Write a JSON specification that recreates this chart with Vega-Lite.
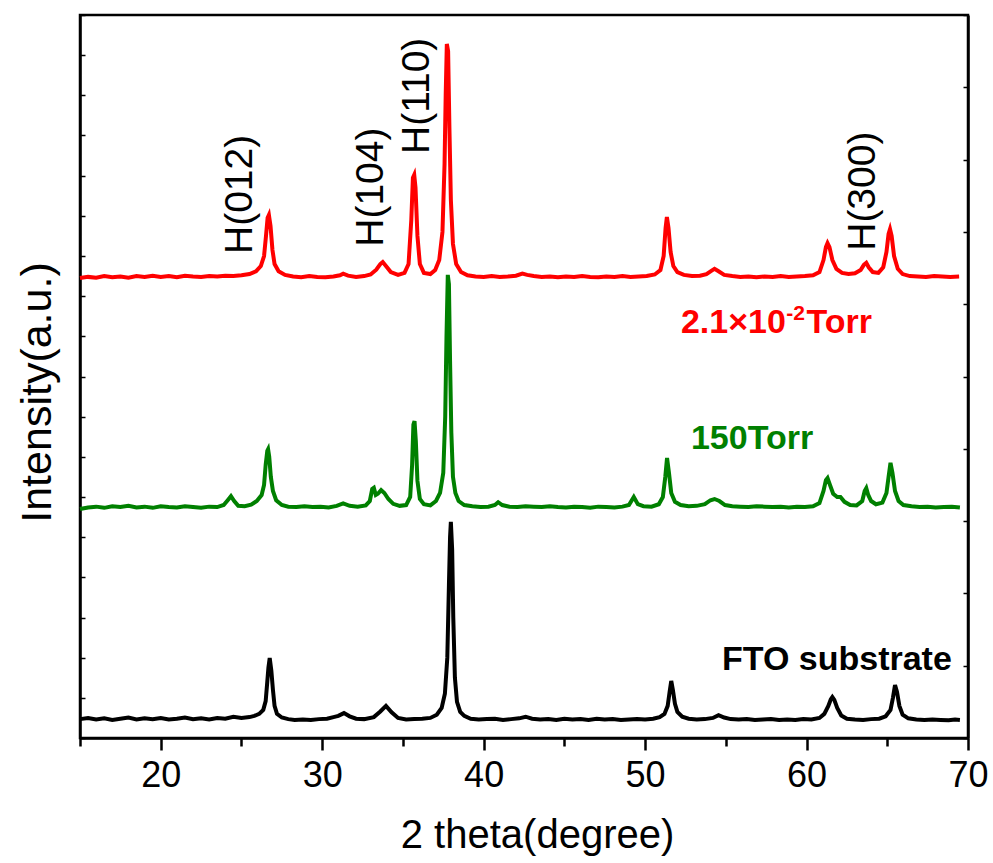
{
  "$schema": "https://vega.github.io/schema/vega-lite/v6.json",
  "width": 888,
  "height": 723,
  "autosize": {"type": "none"},
  "padding": {"left": 80, "top": 15, "right": 25, "bottom": 125},
  "background": "white",
  "config": {
    "view": {"stroke": "black", "strokeWidth": 2.5},
    "font": "Liberation Sans",
    "axis": {"grid": false, "domainColor": "black", "domainWidth": 2.5, "tickColor": "black", "labelColor": "black", "titleColor": "black", "labelFont": "Liberation Sans", "titleFont": "Liberation Sans", "titleFontWeight": "normal"}
  },
  "datasets": {
    "curves": [
      {"s":"FTO","x":15.0,"y":47},{"s":"FTO","x":15.5,"y":50},{"s":"FTO","x":16.0,"y":46},{"s":"FTO","x":16.5,"y":49},{"s":"FTO","x":17.0,"y":45},{"s":"FTO","x":17.5,"y":48},{"s":"FTO","x":18.0,"y":51},{"s":"FTO","x":18.5,"y":46},{"s":"FTO","x":19.0,"y":49},{"s":"FTO","x":19.5,"y":47},{"s":"FTO","x":20.0,"y":50},{"s":"FTO","x":20.5,"y":46},{"s":"FTO","x":21.0,"y":48},{"s":"FTO","x":21.5,"y":51},{"s":"FTO","x":22.0,"y":47},{"s":"FTO","x":22.5,"y":49},{"s":"FTO","x":23.0,"y":46},{"s":"FTO","x":23.5,"y":50},{"s":"FTO","x":24.0,"y":48},{"s":"FTO","x":24.5,"y":53},{"s":"FTO","x":25.0,"y":50},{"s":"FTO","x":25.5,"y":52},{"s":"FTO","x":25.8,"y":55},{"s":"FTO","x":26.1,"y":60},{"s":"FTO","x":26.35,"y":70},{"s":"FTO","x":26.5,"y":92},{"s":"FTO","x":26.6,"y":140},{"s":"FTO","x":26.67,"y":175},{"s":"FTO","x":26.75,"y":199},{"s":"FTO","x":26.85,"y":168},{"s":"FTO","x":26.95,"y":120},{"s":"FTO","x":27.05,"y":80},{"s":"FTO","x":27.2,"y":60},{"s":"FTO","x":27.5,"y":51},{"s":"FTO","x":27.9,"y":47},{"s":"FTO","x":28.3,"y":45},{"s":"FTO","x":28.8,"y":46},{"s":"FTO","x":29.3,"y":45},{"s":"FTO","x":29.8,"y":47},{"s":"FTO","x":30.3,"y":48},{"s":"FTO","x":30.7,"y":52},{"s":"FTO","x":31.0,"y":55},{"s":"FTO","x":31.35,"y":62},{"s":"FTO","x":31.7,"y":54},{"s":"FTO","x":32.1,"y":48},{"s":"FTO","x":32.6,"y":47},{"s":"FTO","x":33.2,"y":52},{"s":"FTO","x":33.6,"y":66},{"s":"FTO","x":33.95,"y":80},{"s":"FTO","x":34.3,"y":64},{"s":"FTO","x":34.7,"y":50},{"s":"FTO","x":35.2,"y":46},{"s":"FTO","x":35.7,"y":47},{"s":"FTO","x":36.2,"y":48},{"s":"FTO","x":36.7,"y":50},{"s":"FTO","x":37.1,"y":58},{"s":"FTO","x":37.4,"y":75},{"s":"FTO","x":37.6,"y":110},{"s":"FTO","x":37.75,"y":200},{"s":"FTO","x":37.85,"y":380},{"s":"FTO","x":37.92,"y":500},{"s":"FTO","x":37.97,"y":538},{"s":"FTO","x":38.05,"y":470},{"s":"FTO","x":38.12,"y":300},{"s":"FTO","x":38.22,"y":150},{"s":"FTO","x":38.35,"y":90},{"s":"FTO","x":38.55,"y":65},{"s":"FTO","x":38.8,"y":55},{"s":"FTO","x":39.2,"y":48},{"s":"FTO","x":39.7,"y":46},{"s":"FTO","x":40.2,"y":47},{"s":"FTO","x":40.7,"y":48},{"s":"FTO","x":41.2,"y":45},{"s":"FTO","x":41.7,"y":47},{"s":"FTO","x":42.2,"y":49},{"s":"FTO","x":42.6,"y":53},{"s":"FTO","x":43.0,"y":48},{"s":"FTO","x":43.5,"y":46},{"s":"FTO","x":44.0,"y":47},{"s":"FTO","x":44.5,"y":45},{"s":"FTO","x":45.0,"y":48},{"s":"FTO","x":45.5,"y":46},{"s":"FTO","x":46.0,"y":47},{"s":"FTO","x":46.5,"y":45},{"s":"FTO","x":47.0,"y":48},{"s":"FTO","x":47.5,"y":46},{"s":"FTO","x":48.0,"y":47},{"s":"FTO","x":48.5,"y":45},{"s":"FTO","x":49.0,"y":46},{"s":"FTO","x":49.5,"y":47},{"s":"FTO","x":50.0,"y":46},{"s":"FTO","x":50.5,"y":48},{"s":"FTO","x":50.9,"y":52},{"s":"FTO","x":51.2,"y":60},{"s":"FTO","x":51.4,"y":80},{"s":"FTO","x":51.52,"y":115},{"s":"FTO","x":51.62,"y":142},{"s":"FTO","x":51.72,"y":120},{"s":"FTO","x":51.85,"y":85},{"s":"FTO","x":52.0,"y":65},{"s":"FTO","x":52.3,"y":53},{"s":"FTO","x":52.7,"y":48},{"s":"FTO","x":53.2,"y":46},{"s":"FTO","x":53.7,"y":47},{"s":"FTO","x":54.2,"y":50},{"s":"FTO","x":54.55,"y":57},{"s":"FTO","x":54.9,"y":51},{"s":"FTO","x":55.3,"y":47},{"s":"FTO","x":55.8,"y":46},{"s":"FTO","x":56.3,"y":47},{"s":"FTO","x":56.8,"y":45},{"s":"FTO","x":57.3,"y":46},{"s":"FTO","x":57.8,"y":47},{"s":"FTO","x":58.3,"y":45},{"s":"FTO","x":58.8,"y":46},{"s":"FTO","x":59.3,"y":45},{"s":"FTO","x":59.8,"y":47},{"s":"FTO","x":60.3,"y":46},{"s":"FTO","x":60.8,"y":50},{"s":"FTO","x":61.1,"y":60},{"s":"FTO","x":61.35,"y":80},{"s":"FTO","x":61.5,"y":96},{"s":"FTO","x":61.6,"y":102},{"s":"FTO","x":61.72,"y":95},{"s":"FTO","x":61.9,"y":75},{"s":"FTO","x":62.15,"y":56},{"s":"FTO","x":62.5,"y":48},{"s":"FTO","x":63.0,"y":46},{"s":"FTO","x":63.5,"y":45},{"s":"FTO","x":64.0,"y":47},{"s":"FTO","x":64.5,"y":48},{"s":"FTO","x":64.9,"y":54},{"s":"FTO","x":65.2,"y":70},{"s":"FTO","x":65.35,"y":100},{"s":"FTO","x":65.48,"y":132},{"s":"FTO","x":65.6,"y":115},{"s":"FTO","x":65.75,"y":80},{"s":"FTO","x":65.95,"y":58},{"s":"FTO","x":66.3,"y":49},{"s":"FTO","x":66.8,"y":46},{"s":"FTO","x":67.3,"y":45},{"s":"FTO","x":67.8,"y":46},{"s":"FTO","x":68.3,"y":45},{"s":"FTO","x":68.8,"y":44},{"s":"FTO","x":69.2,"y":46},{"s":"FTO","x":69.5,"y":45},

      {"s":"150","x":15.0,"y":570},{"s":"150","x":15.5,"y":574},{"s":"150","x":16.0,"y":576},{"s":"150","x":16.5,"y":573},{"s":"150","x":17.0,"y":577},{"s":"150","x":17.5,"y":575},{"s":"150","x":18.0,"y":578},{"s":"150","x":18.5,"y":574},{"s":"150","x":19.0,"y":576},{"s":"150","x":19.5,"y":573},{"s":"150","x":20.0,"y":577},{"s":"150","x":20.5,"y":575},{"s":"150","x":21.0,"y":574},{"s":"150","x":21.5,"y":577},{"s":"150","x":22.0,"y":575},{"s":"150","x":22.5,"y":573},{"s":"150","x":23.0,"y":576},{"s":"150","x":23.5,"y":575},{"s":"150","x":23.9,"y":580},{"s":"150","x":24.15,"y":592},{"s":"150","x":24.35,"y":602},{"s":"150","x":24.55,"y":590},{"s":"150","x":24.8,"y":578},{"s":"150","x":25.2,"y":577},{"s":"150","x":25.6,"y":581},{"s":"150","x":25.95,"y":590},{"s":"150","x":26.25,"y":605},{"s":"150","x":26.4,"y":630},{"s":"150","x":26.5,"y":680},{"s":"150","x":26.6,"y":715},{"s":"150","x":26.65,"y":719},{"s":"150","x":26.72,"y":700},{"s":"150","x":26.82,"y":650},{"s":"150","x":26.95,"y":615},{"s":"150","x":27.15,"y":592},{"s":"150","x":27.5,"y":580},{"s":"150","x":27.9,"y":576},{"s":"150","x":28.4,"y":575},{"s":"150","x":28.9,"y":577},{"s":"150","x":29.4,"y":575},{"s":"150","x":29.9,"y":576},{"s":"150","x":30.4,"y":574},{"s":"150","x":30.9,"y":578},{"s":"150","x":31.3,"y":584},{"s":"150","x":31.7,"y":578},{"s":"150","x":32.2,"y":576},{"s":"150","x":32.7,"y":579},{"s":"150","x":32.95,"y":590},{"s":"150","x":33.1,"y":620},{"s":"150","x":33.2,"y":623},{"s":"150","x":33.32,"y":605},{"s":"150","x":33.45,"y":608},{"s":"150","x":33.65,"y":617},{"s":"150","x":33.85,"y":610},{"s":"150","x":34.1,"y":595},{"s":"150","x":34.4,"y":583},{"s":"150","x":34.8,"y":578},{"s":"150","x":35.2,"y":580},{"s":"150","x":35.45,"y":600},{"s":"150","x":35.57,"y":680},{"s":"150","x":35.65,"y":780},{"s":"150","x":35.72,"y":789},{"s":"150","x":35.8,"y":740},{"s":"150","x":35.9,"y":640},{"s":"150","x":36.05,"y":595},{"s":"150","x":36.3,"y":582},{"s":"150","x":36.7,"y":579},{"s":"150","x":37.05,"y":590},{"s":"150","x":37.3,"y":610},{"s":"150","x":37.5,"y":660},{"s":"150","x":37.62,"y":800},{"s":"150","x":37.7,"y":1000},{"s":"150","x":37.78,"y":1153},{"s":"150","x":37.85,"y":1130},{"s":"150","x":37.92,"y":940},{"s":"150","x":38.0,"y":760},{"s":"150","x":38.1,"y":650},{"s":"150","x":38.25,"y":610},{"s":"150","x":38.45,"y":590},{"s":"150","x":38.8,"y":580},{"s":"150","x":39.3,"y":577},{"s":"150","x":39.8,"y":575},{"s":"150","x":40.3,"y":576},{"s":"150","x":40.7,"y":580},{"s":"150","x":40.9,"y":587},{"s":"150","x":41.15,"y":580},{"s":"150","x":41.6,"y":576},{"s":"150","x":42.1,"y":575},{"s":"150","x":42.6,"y":577},{"s":"150","x":43.1,"y":576},{"s":"150","x":43.6,"y":575},{"s":"150","x":44.1,"y":577},{"s":"150","x":44.6,"y":575},{"s":"150","x":45.1,"y":574},{"s":"150","x":45.6,"y":576},{"s":"150","x":46.1,"y":575},{"s":"150","x":46.6,"y":573},{"s":"150","x":47.1,"y":576},{"s":"150","x":47.6,"y":575},{"s":"150","x":48.1,"y":574},{"s":"150","x":48.6,"y":576},{"s":"150","x":49.0,"y":580},{"s":"150","x":49.3,"y":600},{"s":"150","x":49.55,"y":582},{"s":"150","x":49.9,"y":577},{"s":"150","x":50.4,"y":576},{"s":"150","x":50.85,"y":582},{"s":"150","x":51.1,"y":600},{"s":"150","x":51.25,"y":650},{"s":"150","x":51.36,"y":697},{"s":"150","x":51.48,"y":660},{"s":"150","x":51.62,"y":610},{"s":"150","x":51.85,"y":588},{"s":"150","x":52.2,"y":580},{"s":"150","x":52.7,"y":577},{"s":"150","x":53.2,"y":578},{"s":"150","x":53.7,"y":582},{"s":"150","x":54.05,"y":592},{"s":"150","x":54.3,"y":595},{"s":"150","x":54.6,"y":590},{"s":"150","x":54.95,"y":580},{"s":"150","x":55.4,"y":577},{"s":"150","x":55.9,"y":576},{"s":"150","x":56.4,"y":575},{"s":"150","x":56.9,"y":577},{"s":"150","x":57.4,"y":576},{"s":"150","x":57.9,"y":575},{"s":"150","x":58.4,"y":576},{"s":"150","x":58.9,"y":574},{"s":"150","x":59.4,"y":576},{"s":"150","x":59.9,"y":575},{"s":"150","x":60.4,"y":577},{"s":"150","x":60.8,"y":585},{"s":"150","x":61.05,"y":615},{"s":"150","x":61.2,"y":642},{"s":"150","x":61.3,"y":647},{"s":"150","x":61.45,"y":630},{"s":"150","x":61.65,"y":608},{"s":"150","x":61.9,"y":600},{"s":"150","x":62.1,"y":600},{"s":"150","x":62.35,"y":588},{"s":"150","x":62.7,"y":580},{"s":"150","x":63.1,"y":579},{"s":"150","x":63.45,"y":590},{"s":"150","x":63.6,"y":615},{"s":"150","x":63.7,"y":622},{"s":"150","x":63.82,"y":605},{"s":"150","x":64.0,"y":590},{"s":"150","x":64.3,"y":582},{"s":"150","x":64.7,"y":586},{"s":"150","x":64.95,"y":610},{"s":"150","x":65.08,"y":650},{"s":"150","x":65.2,"y":685},{"s":"150","x":65.32,"y":660},{"s":"150","x":65.48,"y":615},{"s":"150","x":65.7,"y":590},{"s":"150","x":66.0,"y":580},{"s":"150","x":66.5,"y":577},{"s":"150","x":67.0,"y":575},{"s":"150","x":67.5,"y":576},{"s":"150","x":68.0,"y":574},{"s":"150","x":68.5,"y":575},{"s":"150","x":69.0,"y":576},{"s":"150","x":69.5,"y":574},

      {"s":"2.1","x":15.0,"y":1145},{"s":"2.1","x":15.5,"y":1148},{"s":"2.1","x":16.0,"y":1146},{"s":"2.1","x":16.5,"y":1150},{"s":"2.1","x":17.0,"y":1147},{"s":"2.1","x":17.5,"y":1149},{"s":"2.1","x":18.0,"y":1146},{"s":"2.1","x":18.5,"y":1150},{"s":"2.1","x":19.0,"y":1148},{"s":"2.1","x":19.5,"y":1151},{"s":"2.1","x":20.0,"y":1148},{"s":"2.1","x":20.5,"y":1150},{"s":"2.1","x":21.0,"y":1147},{"s":"2.1","x":21.5,"y":1151},{"s":"2.1","x":22.0,"y":1149},{"s":"2.1","x":22.5,"y":1148},{"s":"2.1","x":23.0,"y":1150},{"s":"2.1","x":23.5,"y":1149},{"s":"2.1","x":24.0,"y":1151},{"s":"2.1","x":24.5,"y":1150},{"s":"2.1","x":25.0,"y":1152},{"s":"2.1","x":25.5,"y":1155},{"s":"2.1","x":25.9,"y":1162},{"s":"2.1","x":26.2,"y":1175},{"s":"2.1","x":26.4,"y":1200},{"s":"2.1","x":26.52,"y":1250},{"s":"2.1","x":26.62,"y":1295},{"s":"2.1","x":26.7,"y":1302},{"s":"2.1","x":26.8,"y":1275},{"s":"2.1","x":26.92,"y":1215},{"s":"2.1","x":27.05,"y":1180},{"s":"2.1","x":27.3,"y":1162},{"s":"2.1","x":27.7,"y":1153},{"s":"2.1","x":28.2,"y":1149},{"s":"2.1","x":28.7,"y":1147},{"s":"2.1","x":29.2,"y":1150},{"s":"2.1","x":29.7,"y":1148},{"s":"2.1","x":30.2,"y":1147},{"s":"2.1","x":30.7,"y":1149},{"s":"2.1","x":31.1,"y":1152},{"s":"2.1","x":31.3,"y":1156},{"s":"2.1","x":31.6,"y":1151},{"s":"2.1","x":32.1,"y":1148},{"s":"2.1","x":32.6,"y":1150},{"s":"2.1","x":33.0,"y":1154},{"s":"2.1","x":33.35,"y":1166},{"s":"2.1","x":33.6,"y":1180},{"s":"2.1","x":33.75,"y":1185},{"s":"2.1","x":33.95,"y":1175},{"s":"2.1","x":34.25,"y":1160},{"s":"2.1","x":34.7,"y":1153},{"s":"2.1","x":35.1,"y":1158},{"s":"2.1","x":35.35,"y":1180},{"s":"2.1","x":35.52,"y":1290},{"s":"2.1","x":35.62,"y":1395},{"s":"2.1","x":35.7,"y":1402},{"s":"2.1","x":35.78,"y":1370},{"s":"2.1","x":35.9,"y":1250},{"s":"2.1","x":36.05,"y":1180},{"s":"2.1","x":36.3,"y":1158},{"s":"2.1","x":36.7,"y":1155},{"s":"2.1","x":37.0,"y":1165},{"s":"2.1","x":37.25,"y":1190},{"s":"2.1","x":37.45,"y":1260},{"s":"2.1","x":37.58,"y":1430},{"s":"2.1","x":37.65,"y":1600},{"s":"2.1","x":37.72,"y":1728},{"s":"2.1","x":37.8,"y":1710},{"s":"2.1","x":37.88,"y":1520},{"s":"2.1","x":37.97,"y":1340},{"s":"2.1","x":38.1,"y":1230},{"s":"2.1","x":38.3,"y":1180},{"s":"2.1","x":38.6,"y":1160},{"s":"2.1","x":39.0,"y":1152},{"s":"2.1","x":39.5,"y":1149},{"s":"2.1","x":40.0,"y":1148},{"s":"2.1","x":40.5,"y":1150},{"s":"2.1","x":41.0,"y":1148},{"s":"2.1","x":41.5,"y":1149},{"s":"2.1","x":42.0,"y":1151},{"s":"2.1","x":42.4,"y":1156},{"s":"2.1","x":42.7,"y":1153},{"s":"2.1","x":43.1,"y":1150},{"s":"2.1","x":43.6,"y":1148},{"s":"2.1","x":44.1,"y":1149},{"s":"2.1","x":44.6,"y":1147},{"s":"2.1","x":45.1,"y":1149},{"s":"2.1","x":45.6,"y":1148},{"s":"2.1","x":46.1,"y":1150},{"s":"2.1","x":46.6,"y":1148},{"s":"2.1","x":47.1,"y":1147},{"s":"2.1","x":47.6,"y":1149},{"s":"2.1","x":48.1,"y":1148},{"s":"2.1","x":48.6,"y":1150},{"s":"2.1","x":49.1,"y":1148},{"s":"2.1","x":49.6,"y":1149},{"s":"2.1","x":50.1,"y":1150},{"s":"2.1","x":50.6,"y":1154},{"s":"2.1","x":50.95,"y":1165},{"s":"2.1","x":51.15,"y":1200},{"s":"2.1","x":51.27,"y":1270},{"s":"2.1","x":51.35,"y":1297},{"s":"2.1","x":51.45,"y":1270},{"s":"2.1","x":51.58,"y":1210},{"s":"2.1","x":51.75,"y":1175},{"s":"2.1","x":52.0,"y":1160},{"s":"2.1","x":52.4,"y":1153},{"s":"2.1","x":52.9,"y":1150},{"s":"2.1","x":53.4,"y":1151},{"s":"2.1","x":53.8,"y":1155},{"s":"2.1","x":54.1,"y":1163},{"s":"2.1","x":54.3,"y":1168},{"s":"2.1","x":54.55,"y":1162},{"s":"2.1","x":54.9,"y":1153},{"s":"2.1","x":55.4,"y":1150},{"s":"2.1","x":55.9,"y":1148},{"s":"2.1","x":56.4,"y":1149},{"s":"2.1","x":56.9,"y":1147},{"s":"2.1","x":57.4,"y":1149},{"s":"2.1","x":57.9,"y":1148},{"s":"2.1","x":58.4,"y":1150},{"s":"2.1","x":58.9,"y":1148},{"s":"2.1","x":59.4,"y":1149},{"s":"2.1","x":59.9,"y":1150},{"s":"2.1","x":60.4,"y":1152},{"s":"2.1","x":60.8,"y":1160},{"s":"2.1","x":61.05,"y":1190},{"s":"2.1","x":61.2,"y":1222},{"s":"2.1","x":61.3,"y":1232},{"s":"2.1","x":61.42,"y":1222},{"s":"2.1","x":61.6,"y":1190},{"s":"2.1","x":61.85,"y":1168},{"s":"2.1","x":62.2,"y":1158},{"s":"2.1","x":62.6,"y":1155},{"s":"2.1","x":63.0,"y":1157},{"s":"2.1","x":63.35,"y":1165},{"s":"2.1","x":63.55,"y":1178},{"s":"2.1","x":63.7,"y":1183},{"s":"2.1","x":63.85,"y":1172},{"s":"2.1","x":64.1,"y":1160},{"s":"2.1","x":64.45,"y":1158},{"s":"2.1","x":64.75,"y":1172},{"s":"2.1","x":64.95,"y":1210},{"s":"2.1","x":65.08,"y":1255},{"s":"2.1","x":65.17,"y":1267},{"s":"2.1","x":65.27,"y":1250},{"s":"2.1","x":65.42,"y":1200},{"s":"2.1","x":65.65,"y":1168},{"s":"2.1","x":65.95,"y":1155},{"s":"2.1","x":66.4,"y":1150},{"s":"2.1","x":66.9,"y":1149},{"s":"2.1","x":67.4,"y":1148},{"s":"2.1","x":67.9,"y":1150},{"s":"2.1","x":68.4,"y":1149},{"s":"2.1","x":68.9,"y":1148},{"s":"2.1","x":69.45,"y":1149}
    ],
    "peaks": [
      {"label": "H(012)", "x": 24.9, "y": 1205},
      {"label": "H(104)", "x": 33.05, "y": 1223},
      {"label": "H(110)", "x": 35.85, "y": 1454},
      {"label": "H(300)", "x": 63.5, "y": 1213}
    ]
  },
  "layer": [
    {
      "data": {"name": "curves"},
      "mark": {"type": "line", "strokeWidth": 4, "interpolate": "linear"},
      "encoding": {
        "x": {"field": "x", "type": "quantitative", "scale": {"domain": [15, 70], "nice": false, "zero": false},
          "axis": {"orient": "bottom", "values": [20, 30, 40, 50, 60, 70],
            "tickSize": 12, "tickWidth": 2.5,
            "labelFontSize": 36, "labelPadding": 8, "labelFlush": false, "labelOverlap": false, "labelBound": false,
            "title": "2 theta(degree)", "titleFontSize": 40, "titleBaseline": "alphabetic", "titleX": 457, "titleY": 109, "titleAlign": "center"}},
        "y": {"field": "y", "type": "quantitative", "scale": {"domain": [0, 1800], "nice": false, "zero": false},
          "axis": {"orient": "left", "values": [0,100,200,300,400,500,600,700,800,900,1000,1100,1200,1300,1400,1500,1600,1700,1800],
            "labels": false, "tickSize": -5, "tickWidth": 1.5, "title": "Intensity(a.u.)", "titleFontSize": 43,
            "titleBaseline": "alphabetic", "titleX": -30, "titleY": 377, "titleAlign": "center", "titleAngle": -90}},
        "color": {"field": "s", "type": "nominal", "scale": {"domain": ["FTO", "150", "2.1"], "range": ["#000000", "#008000", "#FF0000"]}, "legend": null},
        "detail": {"field": "s"}
      }
    },
    {
      "data": {"name": "peaks"},
      "mark": {"type": "text", "angle": 270, "align": "left", "baseline": "middle", "fontSize": 39, "font": "Liberation Sans", "color": "black"},
      "encoding": {
        "x": {"field": "x", "type": "quantitative",
          "axis": {"orient": "bottom", "values": [15, 25, 35, 45, 55, 65], "tickSize": 8, "tickWidth": 2.5, "labels": false, "domain": false, "title": null, "offset": 0}},
        "y": {"field": "y", "type": "quantitative", "axis": {"orient": "right", "values": [0,180,360,540,720,900,1080,1260,1440,1620,1800], "labels": false, "tickSize": -5, "tickWidth": 1.5, "title": null, "domain": true}},
        "text": {"field": "label"}
      }
    },
    {
      "data": {"values": [{"label": "FTO substrate", "x": 69.0, "y": 169}]},
      "mark": {"type": "text", "align": "right", "baseline": "alphabetic", "fontSize": 34, "fontWeight": "bold", "font": "Liberation Sans", "color": "black"},
      "encoding": {"x": {"field": "x", "type": "quantitative", "axis": null}, "y": {"field": "y", "type": "quantitative", "axis": null}, "text": {"field": "label"}}
    },
    {
      "data": {"values": [{"label": "150Torr", "x": 52.84, "y": 720}]},
      "mark": {"type": "text", "align": "left", "baseline": "alphabetic", "fontSize": 34, "fontWeight": "bold", "font": "Liberation Sans", "color": "#008000"},
      "encoding": {"x": {"field": "x", "type": "quantitative", "axis": null}, "y": {"field": "y", "type": "quantitative", "axis": null}, "text": {"field": "label"}}
    },
    {
      "data": {"values": [{"label": "2.1×10", "x": 52.22, "y": 1008}, {"label": "Torr", "x": 60.0, "y": 1008}]},
      "mark": {"type": "text", "align": "left", "baseline": "alphabetic", "fontSize": 34, "fontWeight": "bold", "font": "Liberation Sans", "color": "#FF0000"},
      "encoding": {"x": {"field": "x", "type": "quantitative", "axis": null}, "y": {"field": "y", "type": "quantitative", "axis": null}, "text": {"field": "label"}}
    },
    {
      "data": {"values": [{"label": "-2", "x": 58.75, "y": 1041}]},
      "mark": {"type": "text", "align": "left", "baseline": "alphabetic", "fontSize": 21, "fontWeight": "bold", "font": "Liberation Sans", "color": "#FF0000"},
      "encoding": {"x": {"field": "x", "type": "quantitative", "axis": null}, "y": {"field": "y", "type": "quantitative", "axis": null}, "text": {"field": "label"}}
    }
  ],
  "resolve": {"axis": {"y": "independent", "x": "independent"}}
}
